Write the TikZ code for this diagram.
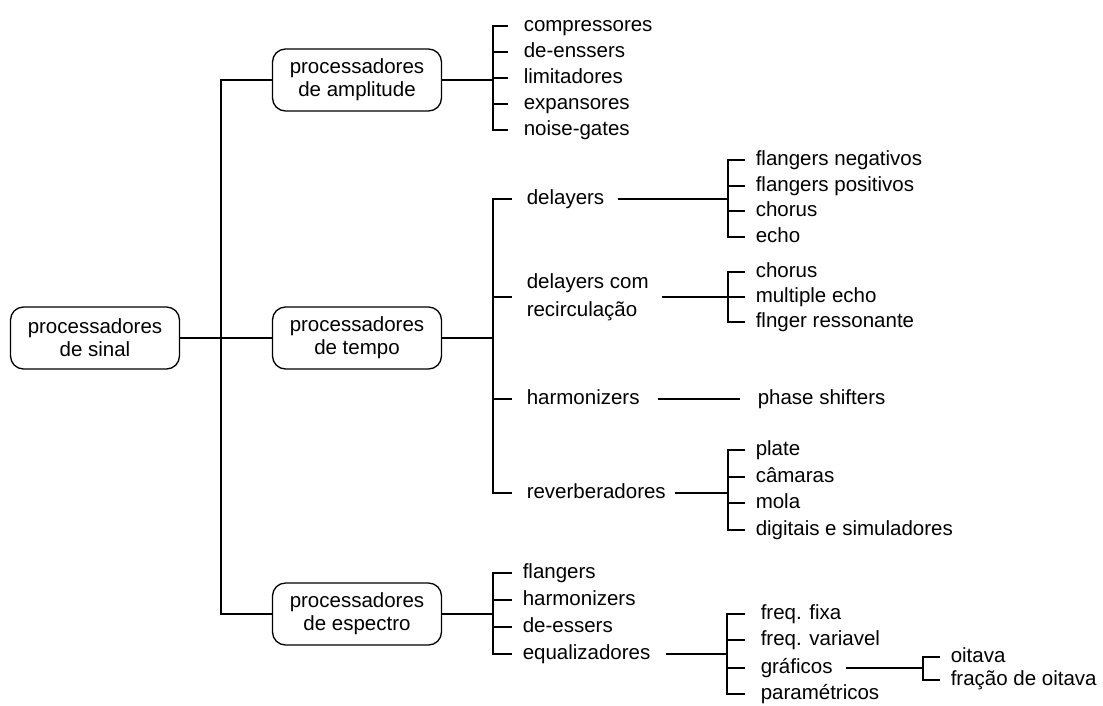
\documentclass[tikz,border=0pt]{standalone}
\usepackage{fontspec}
\setmainfont{Liberation Sans}
\begin{document}
\begin{tikzpicture}[x=1pt,y=-1pt,
  line width=1.5pt,
  every node/.style={font=\fontsize{20.5}{26}\selectfont},
  pbox/.style={draw,rounded corners=13pt,minimum width=169pt,minimum height=62pt,
    align=center,inner sep=0pt,line width=1.3pt,font=\fontsize{20.5}{23}\selectfont},
  item/.style={anchor=west,inner xsep=0pt,inner ysep=0pt,text height=11.5pt,text depth=0pt}]
\useasboundingbox (0,0) rectangle (1103,705);

% main boxes
\node[pbox] (root) at (95,338) {processadores\\de sinal};
\node[pbox] (amp) at (357,80) {processadores\\de amplitude};
\node[pbox] (tem) at (357,338) {processadores\\de tempo};
\node[pbox] (esp) at (357,614) {processadores\\de espectro};

\coordinate (T) at (221,338);
\draw (root.east) -- (tem.west);
\draw (amp.west) -| (T) |- (esp.west);

% amplitude
\coordinate (ab) at (493,80);
\node[item] (a1) at (523,26) {compressores};
\node[item] (a2) at (523,52) {de-enssers};
\node[item] (a3) at (523,78) {limitadores};
\node[item] (a4) at (523,104) {expansores};
\node[item] (a5) at (523,130) {noise-gates};
\draw (amp.east) -- (ab);
\draw ([xshift=-15pt]a1.west) -| (ab |- a5.west) -- ([xshift=-15pt]a5.west);
\foreach \n in {a2,a3,a4} \draw (ab |- \n.west) -- ([xshift=-15pt]\n.west);

% tempo
\coordinate (tb) at (493,338);
\node[item] (t1) at (526,199) {delayers};
\node[anchor=west,inner xsep=0pt,inner ysep=0pt,align=left,font=\fontsize{20.5}{28}\selectfont] (t2) at (526,297) {delayers com\\recirculação};
\node[item] (t3) at (526,399) {harmonizers};
\node[item] (t4) at (526,493) {reverberadores};
\draw (tem.east) -- (tb);
\draw ([xshift=-14pt]t1.west) -| (tb |- t4.west) -- ([xshift=-14pt]t4.west);
\foreach \n in {t2,t3} \draw (tb |- \n.west) -- ([xshift=-14pt]\n.west);

% delayers
\coordinate (db) at (728,199);
\node[item] (d1) at (755,160) {flangers negativos};
\node[item] (d2) at (755,186) {flangers positivos};
\node[item] (d3) at (755,211) {chorus};
\node[item] (d4) at (755,237) {echo};
\draw ([xshift=13pt]t1.east) -- (db);
\draw ([xshift=-10pt]d1.west) -| (db |- d4.west) -- ([xshift=-10pt]d4.west);
\foreach \n in {d2,d3} \draw (db |- \n.west) -- ([xshift=-10pt]\n.west);

% delayers com recirculacao
\coordinate (rb) at (728,297);
\node[item] (r1) at (755,272) {chorus};
\node[item] (r2) at (755,297) {multiple echo};
\node[item] (r3) at (755,322) {flnger ressonante};
\draw ([xshift=13pt]t2.east) -- (rb);
\draw ([xshift=-10pt]r1.west) -| (rb |- r3.west) -- ([xshift=-10pt]r3.west);
\draw (rb |- r2.west) -- ([xshift=-10pt]r2.west);

% harmonizers
\node[item] (h1) at (757,399) {phase shifters};
\draw ([xshift=18pt]t3.east) -- ([xshift=-17pt]h1.west);

% reverberadores
\coordinate (vb) at (728,493);
\node[item] (v1) at (755,450) {plate};
\node[item] (v2) at (755,477) {câmaras};
\node[item] (v3) at (755,503) {mola};
\node[item] (v4) at (755,530) {digitais e simuladores};
\draw ([xshift=8pt]t4.east) -- (vb);
\draw ([xshift=-10pt]v1.west) -| (vb |- v4.west) -- ([xshift=-10pt]v4.west);
\foreach \n in {v2,v3} \draw (vb |- \n.west) -- ([xshift=-10pt]\n.west);

% espectro
\coordinate (eb) at (493,614);
\node[item] (e1) at (522,573) {flangers};
\node[item] (e2) at (522,600) {harmonizers};
\node[item] (e3) at (522,627) {de-essers};
\node[item] (e4) at (522,654) {equalizadores};
\draw (esp.east) -- (eb);
\draw ([xshift=-10pt]e1.west) -| (eb |- e4.west) -- ([xshift=-10pt]e4.west);
\foreach \n in {e2,e3} \draw (eb |- \n.west) -- ([xshift=-10pt]\n.west);

% equalizadores
\coordinate (qb) at (727,654);
\node[item] (q1) at (760,614) {freq. fixa};
\node[item] (q2) at (760,640) {freq. variavel};
\node[item] (q3) at (760,668) {gráficos};
\node[item] (q4) at (760,694) {paramétricos};
\draw ([xshift=15pt]e4.east) -- (qb);
\draw ([xshift=-15pt]q1.west) -| (qb |- q4.west) -- ([xshift=-15pt]q4.west);
\foreach \n in {q2,q3} \draw (qb |- \n.west) -- ([xshift=-15pt]\n.west);

% graficos
\coordinate (gb) at (923,668);
\node[item] (o1) at (950,657) {oitava};
\node[item] (o2) at (950,680) {fração de oitava};
\draw ([xshift=13pt]q3.east) -- (gb);
\draw ([xshift=-10pt]o1.west) -| (gb |- o2.west) -- ([xshift=-10pt]o2.west);
\end{tikzpicture}
\end{document}
